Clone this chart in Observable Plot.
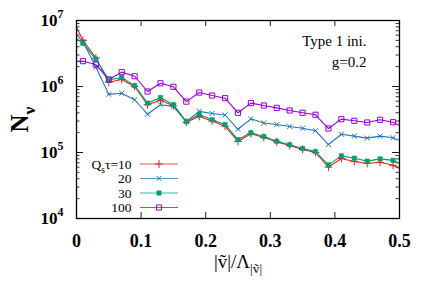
<!DOCTYPE html>
<html><head><meta charset="utf-8">
<script src="https://cdn.jsdelivr.net/npm/d3@7"></script>
<script src="https://cdn.jsdelivr.net/npm/@observablehq/plot@0.6"></script>
<style>body{margin:0;background:#fff} svg{display:block;background:#fff} svg text{font-family:"Liberation Serif","Times New Roman",serif}</style>
</head><body><div id="chart"></div>
<script>
// x positions (line ends at 0 and 0.5, markers at the bin centres)
const xValues = [0, 0.01, 0.03, 0.05, 0.07, 0.09, 0.11, 0.13, 0.15, 0.17, 0.19, 0.21, 0.23, 0.25, 0.27, 0.29, 0.31, 0.33, 0.35, 0.37, 0.39, 0.41, 0.43, 0.45, 0.47, 0.49, 0.5];
const tau10 = [7.8e6, 5.0e6, 2.7e6, 1.16e6, 1.28e6, 1.0e6, 5.3e5, 6.2e5, 5.1e5, 2.88e5, 3.5e5, 3.0e5, 2.5e5, 1.47e5, 1.92e5, 1.69e5, 1.45e5, 1.28e5, 1.11e5, 1.0e5, 6.0e4, 8.1e4, 7.3e4, 6.8e4, 7.1e4, 6.4e4, 5.7e4];
const tau20 = [6.1e6, 4.8e6, 1.96e6, 7.6e5, 7.9e5, 6.3e5, 3.8e5, 5.3e5, 5.0e5, 2.95e5, 4.2e5, 3.9e5, 3.7e5, 2.25e5, 3.24e5, 2.8e5, 2.65e5, 2.48e5, 2.33e5, 2.14e5, 1.32e5, 1.89e5, 1.77e5, 1.65e5, 1.77e5, 1.67e5, 1.52e5];
const tau30 = [5.3e6, 4.5e6, 2.6e6, 1.26e6, 1.37e6, 1.03e6, 5.6e5, 6.8e5, 5.3e5, 2.95e5, 3.77e5, 3.13e5, 2.65e5, 1.57e5, 1.99e5, 1.75e5, 1.48e5, 1.31e5, 1.15e5, 1.03e5, 6.5e4, 8.9e4, 8.2e4, 7.4e4, 8.0e4, 7.6e4, 6.8e4];
const tau100 = [2.4e6, 2.42e6, 2.15e6, 1.28e6, 1.65e6, 1.43e6, 8.4e5, 1.12e6, 9.9e5, 5.9e5, 8.1e5, 7.3e5, 6.65e5, 4.0e5, 5.6e5, 5.15e5, 4.75e5, 4.33e5, 4.0e5, 3.73e5, 2.31e5, 3.2e5, 3.02e5, 2.85e5, 3.13e5, 2.88e5, 2.57e5];
const seriesNames = ["10", "20", "30", "100"];
const seriesValues = [tau10, tau20, tau30, tau100];
const seriesColors = ["#e51e10", "#1f78b8", "#009e73", "#9400d3"];
const xTicks = [0, 0.1, 0.2, 0.3, 0.4, 0.5];
const yTicks = [1e4, 1e5, 1e6, 1e7];
const annotation = ["Type 1 ini.", "g=0.2"];

const W = 436, H = 305, mL = 76, mR = 37, mT = 20, mB = 87;
const fw = W - mL - mR, fh = H - mT - mB;
const FONT = "Liberation Serif";

const rows = seriesNames.flatMap((name, i) =>
  xValues.map((x, j) => ({x, y: seriesValues[i][j], series: name, marker: j > 0 && j < xValues.length - 1})));
const minorY = [];
for (let k = 4; k < 7; k++) for (let m = 2; m <= 9; m++) minorY.push(m * 10 ** k);
const innerX = xTicks.slice(1, -1);

const styles = [
  {symbol: "plus", r: 2.6, fill: "none", stroke: seriesColors[0], strokeWidth: 1},
  {symbol: "times", r: 2.4, fill: "none", stroke: seriesColors[1], strokeWidth: 1},
  {symbol: "square", r: 2.5, fill: seriesColors[2], stroke: seriesColors[2], strokeWidth: 0.5},
  {symbol: "square", r: 2.9, fill: "none", stroke: seriesColors[3], strokeWidth: 1}
];

const plot = Plot.plot({
  width: W, height: H,
  marginLeft: mL, marginRight: mR, marginTop: mT, marginBottom: mB,
  style: {background: "#fff", color: "#000"},
  x: {domain: [0, 0.5]},
  y: {type: "log", domain: [1e4, 1e7]},
  marks: [
    Plot.ruleY(minorY, {insetRight: fw - 3.5, stroke: "#000", strokeWidth: 0.8}),
    Plot.ruleY(minorY, {insetLeft: fw - 3.5, stroke: "#000", strokeWidth: 0.8}),
    Plot.ruleY(yTicks, {insetRight: fw - 7, stroke: "#000", strokeWidth: 0.9}),
    Plot.ruleY(yTicks, {insetLeft: fw - 7, stroke: "#000", strokeWidth: 0.9}),
    Plot.ruleX(innerX, {insetTop: fh - 6, stroke: "#000", strokeWidth: 0.9}),
    Plot.ruleX(innerX, {insetBottom: fh - 6, stroke: "#000", strokeWidth: 0.9}),
    Plot.axisX({ticks: xTicks, tickSize: 0, tickPadding: 16, label: null,
      tickFormat: d => d === 0 ? "0" : d.toFixed(1), fontSize: 18, fontWeight: "bold"}),
    Plot.axisY({ticks: yTicks, tickSize: 0, tickPadding: 13, label: null,
      tickFormat: d => `10^{${Math.round(Math.log10(d))}}`, fontSize: 17, fontWeight: "bold"}),
    ...seriesNames.map((name, i) =>
      Plot.line(rows.filter(d => d.series === name), {x: "x", y: "y", stroke: seriesColors[i], strokeWidth: 1.1})),
    ...seriesNames.map((name, i) =>
      Plot.dot(rows.filter(d => d.series === name && d.marker), {x: "x", y: "y", ...styles[i]})),
    Plot.frame({stroke: "#000", strokeWidth: 1.3}),
    Plot.text(["N_{ν}"], {frameAnchor: "left", dx: -57, rotate: -90, fontSize: 25, fontWeight: "bold", lineAnchor: "middle", textAnchor: "middle"}),
    Plot.text(["|ṽ|/Λ_{|ṽ|}"], {frameAnchor: "bottom", dy: 43, fontSize: 19, lineAnchor: "middle", textAnchor: "middle"}),
    Plot.text([annotation[0]], {frameAnchor: "top-right", dx: -33, dy: 21, fontSize: 15, lineAnchor: "middle", textAnchor: "end"}),
    Plot.text([annotation[1]], {frameAnchor: "top-right", dx: -33, dy: 42, fontSize: 15, lineAnchor: "middle", textAnchor: "end"}),
    ...seriesNames.map((name, i) =>
      Plot.text([i === 0 ? `Q_{s}τ=${name}` : name], {frameAnchor: "bottom-left", dx: 55, dy: -54 + i * 14.5,
        fontSize: 13.5, lineAnchor: "middle", textAnchor: "end"}))
  ]
});

// rich text: _{sub} and ^{sup}
function rich(el, base) {
  const str = el.textContent;
  if (!/[_^]\{/.test(str)) return;
  const t = d3.select(el); t.text(null);
  const parts = str.split(/([_^]\{[^}]*\})/).filter(s => s);
  let cur = 0;
  for (const p of parts) {
    const m = p.match(/^([_^])\{(.*)\}$/);
    if (m) {
      const off = m[1] === "_" ? 0.3 * base : -0.45 * base;
      t.append("tspan").attr("dy", off - cur).attr("font-size", base * 0.7).text(m[2]);
      cur = off;
    } else {
      t.append("tspan").attr("dy", -cur).text(p);
      cur = 0;
    }
  }
}
const svg = d3.select(plot);
svg.selectAll("text").each(function() {
  const own = this.getAttribute("font-size");
  const par = this.parentNode.getAttribute("font-size");
  const fs = parseFloat(own || par || 15);
  this.setAttribute("font-family", FONT);
  rich(this, fs);
});
svg.selectAll("g").attr("font-family", FONT);

// legend samples
const lx0 = mL + 64, lx1 = mL + 102, lxm = mL + 83;
seriesNames.forEach((name, i) => {
  const y = H - mB - 54 + i * 14.5;
  svg.append("line").attr("x1", lx0).attr("x2", lx1).attr("y1", y).attr("y2", y)
    .attr("stroke", seriesColors[i]).attr("stroke-width", 1.1).attr("stroke-opacity", 0.75);
  const s = styles[i];
  const type = {plus: d3.symbolPlus, times: d3.symbolTimes, square: d3.symbolSquare}[s.symbol];
  svg.append("path").attr("d", d3.symbol(type, s.r * s.r * Math.PI)())
    .attr("transform", `translate(${lxm},${y})`)
    .attr("fill", s.fill).attr("stroke", s.stroke).attr("stroke-width", s.strokeWidth);
});

document.getElementById("chart").appendChild(plot);
</script>
</body></html>
